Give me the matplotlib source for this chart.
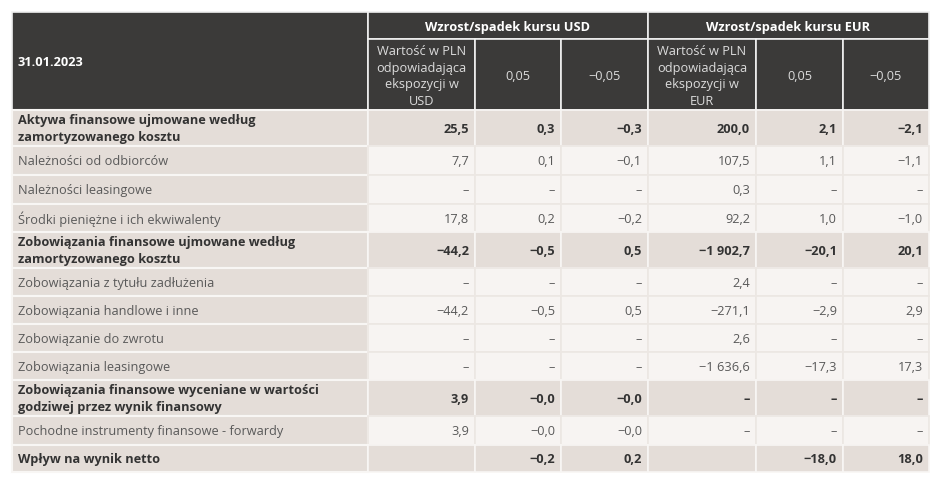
import matplotlib
matplotlib.use("Agg")
import matplotlib.pyplot as plt
from matplotlib.patches import Rectangle

plt.rcParams['font.family'] = ['Open Sans', 'DejaVu Sans']

# table content
date_label = "31.01.2023"
group_labels = ["Wzrost/spadek kursu USD", "Wzrost/spadek kursu EUR"]
sub_labels = ["Wartość w PLN\nodpowiadająca\nekspozycji w\nUSD", "0,05", "\u22120,05",
              "Wartość w PLN\nodpowiadająca\nekspozycji w\nEUR", "0,05", "\u22120,05"]

row_labels = [
    "Aktywa finansowe ujmowane według\nzamortyzowanego kosztu",
    "Należności od odbiorców",
    "Należności leasingowe",
    "Środki pieniężne i ich ekwiwalenty",
    "Zobowiązania finansowe ujmowane według\nzamortyzowanego kosztu",
    "Zobowiązania z tytułu zadłużenia",
    "Zobowiązania handlowe i inne",
    "Zobowiązanie do zwrotu",
    "Zobowiązania leasingowe",
    "Zobowiązania finansowe wyceniane w wartości\ngodziwej przez wynik finansowy",
    "Pochodne instrumenty finansowe - forwardy",
    "Wpływ na wynik netto",
]
row_bold = [True, False, False, False, True, False, False, False, False, True, False, True]

M = "\u2212"
D = "\u2013"
usd_exposure = ["25,5", "7,7", D, "17,8", M + "44,2", D, M + "44,2", D, D, "3,9", "3,9", ""]
usd_up = ["0,3", "0,1", D, "0,2", M + "0,5", D, M + "0,5", D, D, M + "0,0", M + "0,0", M + "0,2"]
usd_down = [M + "0,3", M + "0,1", D, M + "0,2", "0,5", D, "0,5", D, D, M + "0,0", M + "0,0", "0,2"]
eur_exposure = ["200,0", "107,5", "0,3", "92,2", M + "1 902,7", "2,4", M + "271,1", "2,6",
                M + "1 636,6", D, D, ""]
eur_up = ["2,1", "1,1", D, "1,0", M + "20,1", D, M + "2,9", D, M + "17,3", D, D, M + "18,0"]
eur_down = [M + "2,1", M + "1,1", D, M + "1,0", "20,1", D, "2,9", D, "17,3", D, D, "18,0"]

columns = [usd_exposure, usd_up, usd_down, eur_exposure, eur_up, eur_down]

# layout (pixels)
col_edges = [12, 368, 475, 561, 648, 756, 843, 929]
head_edges = [13, 40, 111]
row_edges = [111, 147, 176, 205, 233, 269, 297, 325, 353, 381, 417, 446, 473]

dark = "#3b3a39"
beige = "#e4ddd8"
light = "#f7f4f2"
line_light = "#ece7e3"
txt_bold = "#333333"
txt_norm = "#595959"
fs = 9.2

fig = plt.figure(figsize=(9.48, 4.85), dpi=100)
ax = fig.add_axes([0, 0, 1, 1])
ax.set_xlim(0, 948)
ax.set_ylim(485, 0)
ax.axis("off")


def cell(x0, x1, y0, y1, color, edge, lw=1.2):
    ax.add_patch(Rectangle((x0, y0), x1 - x0, y1 - y0, facecolor=color,
                           edgecolor=edge, linewidth=lw))


# header
cell(col_edges[0], col_edges[1], head_edges[0], head_edges[2], dark, "#f0f0f0")
ax.text(col_edges[0] + 6, (head_edges[0] + head_edges[2]) / 2, date_label,
        ha="left", va="center", color="white", fontsize=fs, fontweight="bold")
for g, label in enumerate(group_labels):
    x0 = col_edges[1 + 3 * g]
    x1 = col_edges[4 + 3 * g]
    cell(x0, x1, head_edges[0], head_edges[1], dark, "#f0f0f0")
    ax.text((x0 + x1) / 2, (head_edges[0] + head_edges[1]) / 2 + 1, label,
            ha="center", va="center", color="white", fontsize=fs, fontweight="bold")
for j, label in enumerate(sub_labels):
    x0, x1 = col_edges[j + 1], col_edges[j + 2]
    cell(x0, x1, head_edges[1], head_edges[2], dark, "#f0f0f0")
    ax.text((x0 + x1) / 2, (head_edges[1] + head_edges[2]) / 2 + 1, label,
            ha="center", va="center", color="#dcdcdc", fontsize=fs, linespacing=1.38)

# body
for i, label in enumerate(row_labels):
    y0, y1 = row_edges[i], row_edges[i + 1]
    ym = (y0 + y1) / 2 + 0.5
    bold = row_bold[i]
    weight = "bold" if bold else "normal"
    tcol = txt_bold if bold else txt_norm
    cell(col_edges[0], col_edges[1], y0, y1, beige, "#f8f6f4", 1.5)
    ax.text(col_edges[0] + 6, ym, label, ha="left", va="center", color=tcol,
            fontsize=fs, fontweight=weight, linespacing=1.4)
    for j, values in enumerate(columns):
        x0, x1 = col_edges[j + 1], col_edges[j + 2]
        cell(x0, x1, y0, y1, beige if bold else light, line_light if not bold else "#f8f6f4", 1.2)
        ax.text(x1 - 6, ym, values[i], ha="right", va="center", color=tcol,
                fontsize=fs, fontweight=weight)

fig.savefig("out.png", dpi=100, facecolor="white")
